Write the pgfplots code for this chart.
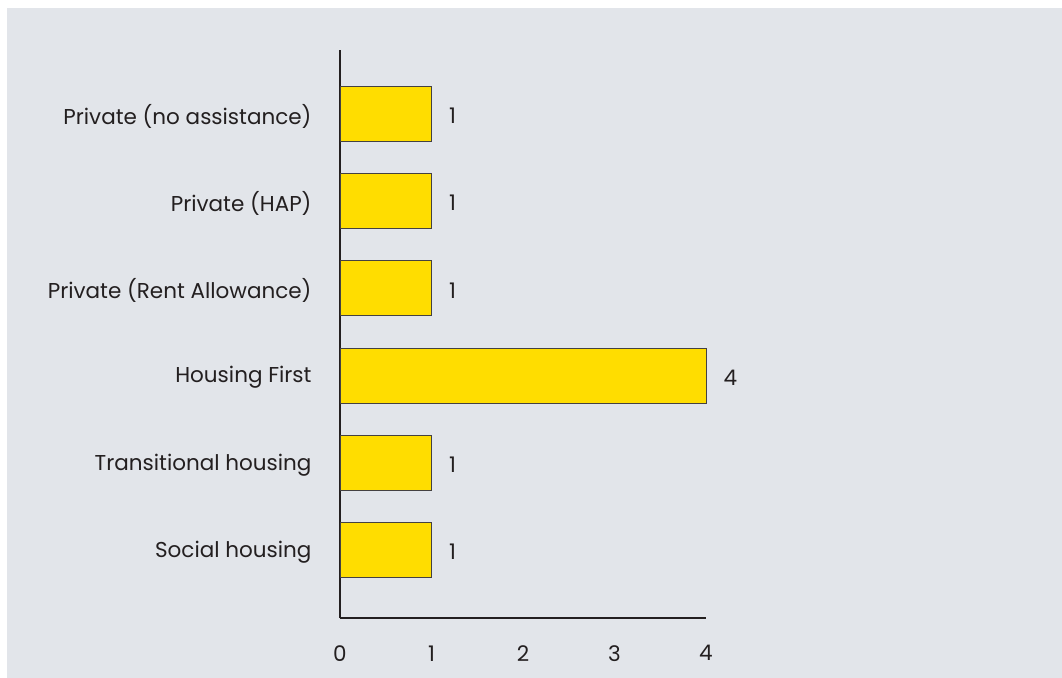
\documentclass[border=0pt]{standalone}
\usepackage{pgfplots}
\pgfplotsset{compat=1.18}
\usepackage{fontspec}
\setmainfont{Poppins}
\definecolor{bg}{HTML}{E2E5EA}
\definecolor{baryellow}{HTML}{FFDD00}
\definecolor{ink}{HTML}{231F20}
\begin{document}
\begin{tikzpicture}
\fill[white] (0,0) rectangle (1062bp,678bp);
\fill[bg] (7bp,0) rectangle (1062bp,670bp);
\begin{axis}[
  at={(340bp,60bp)}, anchor=south west,
  scale only axis,
  width=366bp, height=568bp,
  xbar,
  bar width=55bp,
  xmin=0, xmax=4,
  ymin=-0.78, ymax=5.734,
  axis lines=left,
  axis line style={-, line width=1.6bp, color=ink},
  major tick length=0pt,
  xtick={0,1,2,3,4},
  ytick={0,1,2,3,4,5},
  yticklabels={Social housing, Transitional housing, Housing First, Private (Rent Allowance), Private (HAP), Private (no assistance)},
  /pgf/number format/assume math mode=true,
  tick label style={font=\fontsize{21.5bp}{25bp}\selectfont, text=ink},
  xticklabel style={yshift=-24bp},
  yticklabel style={xshift=-25bp, yshift=-2bp},
  nodes near coords,
  nodes near coords align={horizontal},
  every node near coord/.append style={font=\fontsize{21.5bp}{25bp}\selectfont, text=ink, xshift=14bp, yshift=-2bp},
  clip=false,
]
\addplot[fill=baryellow, draw=ink!85, line width=0.8bp] coordinates {
  (1,0) (1,1) (4,2) (1,3) (1,4) (1,5)
};
\end{axis}
\end{tikzpicture}
\end{document}
